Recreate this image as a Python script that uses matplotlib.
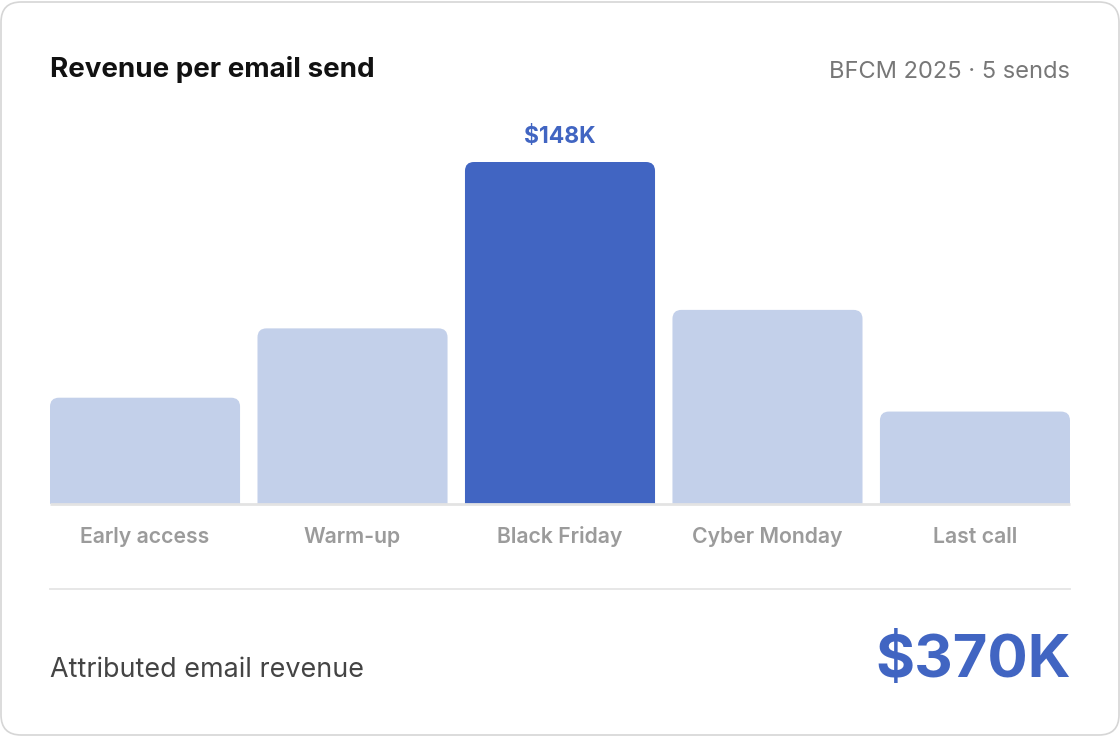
import matplotlib.pyplot as plt
from matplotlib.patches import FancyBboxPatch, PathPatch
from matplotlib.path import Path

plt.rcParams['font.family'] = ['Inter', 'DejaVu Sans']

categories = ['Early access', 'Warm-up', 'Black Friday', 'Cyber Monday', 'Last call']
revenue_k = [46, 76, 148, 84, 40]
highlight = 'Black Friday'
total_label = '$370K'

W, H = 1120, 736
BLUE = '#4165c2'
LIGHT = '#c3d0ea'

fig = plt.figure(figsize=(W / 100, H / 100), dpi=100)
fig.patch.set_facecolor('white')


def fx(x):
    return x / W


def fy(y):
    return 1 - y / H


def top_rounded_bar(x0, width, height, rx, ry):
    x1 = x0 + width
    verts = [(x0, 0), (x0, height - ry), (x0, height), (x0 + rx, height),
             (x1 - rx, height), (x1, height), (x1, height - ry), (x1, 0), (x0, 0)]
    codes = [Path.MOVETO, Path.LINETO, Path.CURVE3, Path.CURVE3,
             Path.LINETO, Path.CURVE3, Path.CURVE3, Path.LINETO, Path.CLOSEPOLY]
    return Path(verts, codes)


# card
card = FancyBboxPatch((fx(1), fy(735)), fx(1118), 733 / H,
                      boxstyle='round,pad=0,rounding_size=0.018',
                      mutation_aspect=W / H,
                      transform=fig.transFigure, facecolor='white',
                      edgecolor='#d6d6d6', linewidth=1.2, zorder=-5)
fig.patches.append(card)

fig.text(fx(50), fy(77), 'Revenue per email send', fontsize=20, fontweight='bold',
         color='#111111', va='baseline', ha='left')
fig.text(fx(1070), fy(77.5), 'BFCM 2025 · 5 sends', fontsize=17, color='#777777',
         va='baseline', ha='right')

# bar area
top_px, base_px = 100, 504
ax = fig.add_axes([fx(50), fy(base_px), fx(1020), (base_px - top_px) / H])
ax.set_facecolor('none')
w = 0.916
ymax = max(revenue_k) * (base_px - top_px) / (base_px - 162)
ax.set_xlim(-w / 2, len(categories) - 1 + w / 2)
ax.set_ylim(0, ymax)
ax.axis('off')

x_px_per_unit = 1020 / (len(categories) - 1 + w)
y_px_per_unit = (base_px - top_px) / ymax
rx = 9 / x_px_per_unit
ry = 9 / y_px_per_unit

for i, (cat, v) in enumerate(zip(categories, revenue_k)):
    c = BLUE if cat == highlight else LIGHT
    ax.add_patch(PathPatch(top_rounded_bar(i - w / 2, w, v, rx, ry),
                           facecolor=c, edgecolor='none'))
    if cat == highlight:
        ax.text(i, v + 19 / y_px_per_unit, f'${v}K', ha='center', va='baseline',
                fontsize=16.5, fontweight='bold', color=BLUE)
    ax.text(i, -39 / y_px_per_unit, cat, ha='center', va='baseline', fontsize=15.3,
            fontweight='semibold', color='#9b9b9b', clip_on=False)

ax.plot([-w / 2, len(categories) - 1 + w / 2], [0, 0], color='#e3e3e3',
        linewidth=2, solid_capstyle='butt', clip_on=False)

# divider and total
fig.add_artist(plt.Line2D([fx(50), fx(1070)], [fy(589), fy(589)], color='#e5e5e5',
                          linewidth=1.3))
fig.text(fx(50), fy(677), 'Attributed email revenue', fontsize=19.4, color='#444444',
         va='baseline', ha='left')
fig.text(fx(1071), fy(677), total_label, fontsize=43, fontweight='bold', color=BLUE,
         va='baseline', ha='right')

fig.savefig('out.png', dpi=100, facecolor='white')
